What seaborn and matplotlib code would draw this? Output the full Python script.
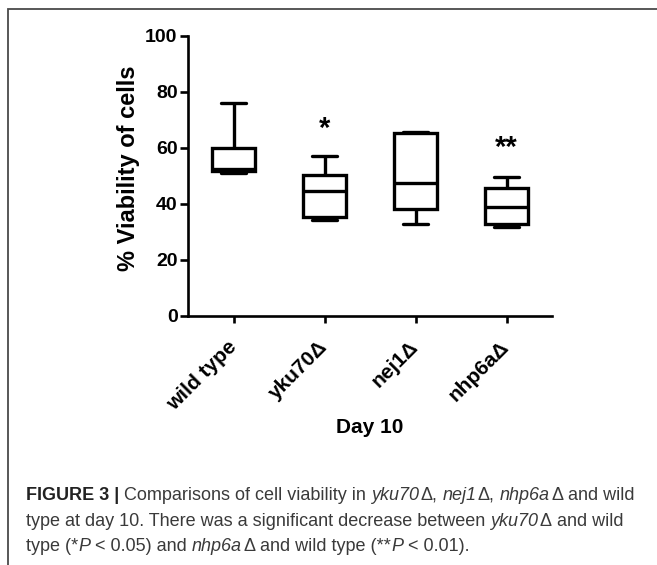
import numpy as np
import pandas as pd
import matplotlib
matplotlib.use("Agg")
import matplotlib.pyplot as plt
import seaborn as sns
from matplotlib.patches import Rectangle

# ---- data ----
strains = ["wild type", "yku70Δ", "nej1Δ", "nhp6aΔ"]
wild_type = [51.0, 51.8, 52.3, 59.8, 76.1]
yku70 = [34.2, 35.4, 44.6, 50.3, 57.1]
nej1 = [32.7, 38.2, 47.3, 65.2, 65.6]
nhp6a = [31.6, 32.8, 39.0, 45.6, 49.5]
sig_labels = ["", "*", "", "**"]
sig_heights = [0, 68.3, 0, 61.5]
yticks = [0, 20, 40, 60, 80, 100]

sns.set_theme(style="ticks")
plt.rcParams['font.family'] = ['Liberation Sans', 'DejaVu Sans']
plt.rcParams['text.color'] = 'black'
plt.rcParams['axes.labelcolor'] = 'black'
plt.rcParams['xtick.color'] = 'black'
plt.rcParams['ytick.color'] = 'black'

df = pd.DataFrame({
    "strain": np.repeat(strains, 5),
    "viability": wild_type + yku70 + nej1 + nhp6a,
})

W, H = 657, 565
fig = plt.figure(figsize=(W / 100, H / 100), dpi=100)
fig.patch.set_facecolor("white")

# outer frame
fig.patches.append(Rectangle((8 / W, -0.1), 1.2, 1.1 - 8.5 / H, transform=fig.transFigure,
                             fill=False, edgecolor="#4a4a4a", linewidth=1.3))

ax = fig.add_axes([188 / W, 1 - 316 / H, (552 - 188) / W, (316 - 35.7) / H])
ax.set_facecolor("white")

sns.boxplot(data=df, x="strain", y="viability", order=strains, whis=(0, 100),
            width=0.48, color="white", linecolor="black", linewidth=2.4,
            capwidths=0.27, ax=ax)

ax.set_xlim(-0.5, 3.5)
ax.set_ylim(0, 100)
ax.set_yticks(yticks)
sns.despine(ax=ax)
for s in ["left", "bottom"]:
    ax.spines[s].set_linewidth(1.9)
    ax.spines[s].set_color("black")
ax.tick_params(axis="y", length=5.5, width=1.9, pad=2, labelsize=14,
               color="black", labelcolor="black")
ax.tick_params(axis="x", length=5, width=1.9, pad=15, labelsize=15,
               color="black", labelcolor="black")
for lbl in ax.get_yticklabels():
    lbl.set_fontweight("bold")
for lbl in ax.get_xticklabels():
    lbl.set_fontweight("bold")
    lbl.set_rotation(45)
    lbl.set_ha("right")
    lbl.set_va("center")
    lbl.set_rotation_mode("anchor")

ax.set_ylabel("% Viability of cells", fontsize=17, fontweight="bold", color="black")
ax.yaxis.set_label_coords(-0.132, 0.526)
ax.set_xlabel("Day 10", fontsize=15, fontweight="bold", color="black")
ax.xaxis.set_label_coords(0.5, -0.365)

for i, (lab, h) in enumerate(zip(sig_labels, sig_heights)):
    if lab:
        ax.annotate(lab, xy=(i, h), xytext=(0, -3.3), textcoords="offset points",
                    ha="center", va="center", fontsize=21, fontweight="bold",
                    color="black")

# ---- caption with mixed styles ----
cap_color = "#3a3a3a"
fs = 13
renderer = fig.canvas.get_renderer()


def text_width(s, style="normal", weight="normal"):
    t = fig.text(0, 0, s, fontsize=fs, fontstyle=style, fontweight=weight)
    w = t.get_window_extent(renderer).width
    t.remove()
    return w


space_w = text_width("a a") - text_width("aa")


def rich_line(y_px, segments, x_px=26):
    x = x_px
    for seg in segments:
        s, style, weight, color = seg
        if s == " ":
            x += space_w
            continue
        if s == "thin":
            x += 1.5
            continue
        t = fig.text(x / W, 1 - y_px / H, s, fontsize=fs, fontstyle=style,
                     fontweight=weight, color=color, va="baseline", ha="left")
        x += t.get_window_extent(renderer).width


N = ("normal", "normal", cap_color)
I = ("italic", "normal", cap_color)
B = ("normal", "bold", "#222222")
SP = (" ", "normal", "normal", cap_color)
TH = ("thin", "normal", "normal", cap_color)


def seg(s, st):
    return (s,) + st


rich_line(500, [seg("FIGURE 3 |", B), SP, seg("Comparisons of cell viability in", N), SP,
                seg("yku70", I), TH, seg("Δ,", N), SP, seg("nej1", I), TH, seg("Δ,", N), SP,
                seg("nhp6a", I), TH, seg("Δ", N), SP, seg("and wild", N)])
rich_line(526, [seg("type at day 10. There was a significant decrease between", N), SP,
                seg("yku70", I), TH, seg("Δ", N), SP, seg("and wild", N)])
rich_line(551, [seg("type (*", N), seg("P", I), SP, seg("< 0.05) and", N), SP,
                seg("nhp6a", I), TH, seg("Δ", N), SP, seg("and wild type (**", N),
                seg("P", I), SP, seg("< 0.01).", N)])

fig.savefig("out.png", dpi=100)
